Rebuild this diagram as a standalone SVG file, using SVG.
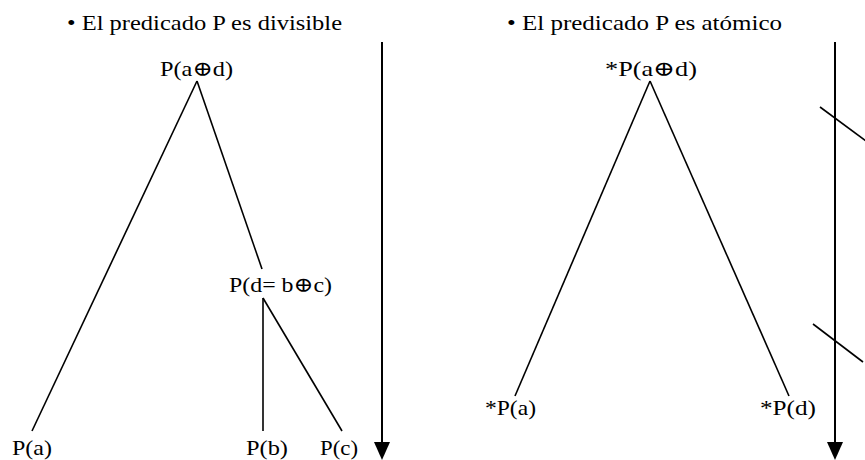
<svg xmlns="http://www.w3.org/2000/svg" width="865" height="460" viewBox="0 0 865 460">
<defs>
<style>
text{font-family:"Liberation Serif","DejaVu Serif",serif;font-size:21px;fill:#000}
line{stroke:#000;stroke-width:1.6}
.ax{stroke-width:2}
.head{fill:#000}
</style>
</defs>
<g id="title-left"><text x="67" y="30" textLength="275" lengthAdjust="spacingAndGlyphs">• El predicado P es divisible</text></g>
<g id="title-right"><text x="507" y="30" textLength="275" lengthAdjust="spacingAndGlyphs">• El predicado P es atómico</text></g>
<g id="connectors">
<line x1="197" y1="81" x2="32" y2="431"/>
<line x1="197" y1="81" x2="262" y2="269"/>
<line x1="263" y1="298" x2="263" y2="431"/>
<line x1="263" y1="298" x2="342" y2="431"/>
<line x1="650" y1="81" x2="515" y2="396"/>
<line x1="650" y1="81" x2="789" y2="396"/>
<line class="ax" x1="382" y1="42" x2="382" y2="445"/>
<polygon class="head" points="374,442 390,442 382,460"/>
<line class="ax" x1="835" y1="42" x2="835" y2="445"/>
<polygon class="head" points="827,442 843,442 835,460"/>
<line x1="820" y1="107" x2="866" y2="141"/>
<line x1="813" y1="324" x2="863" y2="362"/>
</g>
<g id="n-pad"><text x="160" y="76" textLength="73" lengthAdjust="spacingAndGlyphs">P(a⊕d)</text></g>
<g id="n-pdbc"><text x="229" y="292" textLength="103" lengthAdjust="spacingAndGlyphs">P(d= b⊕c)</text></g>
<g id="n-pa"><text x="12" y="455" textLength="40" lengthAdjust="spacingAndGlyphs">P(a)</text></g>
<g id="n-pb"><text x="246" y="455" textLength="42" lengthAdjust="spacingAndGlyphs">P(b)</text></g>
<g id="n-pc"><text x="320" y="455" textLength="38" lengthAdjust="spacingAndGlyphs">P(c)</text></g>
<g id="n-spad"><text x="605" y="76" textLength="92" lengthAdjust="spacingAndGlyphs">*P(a⊕d)</text></g>
<g id="n-spa"><text x="485" y="415" textLength="51" lengthAdjust="spacingAndGlyphs">*P(a)</text></g>
<g id="n-spd"><text x="760" y="415" textLength="56" lengthAdjust="spacingAndGlyphs">*P(d)</text></g>
</svg>
